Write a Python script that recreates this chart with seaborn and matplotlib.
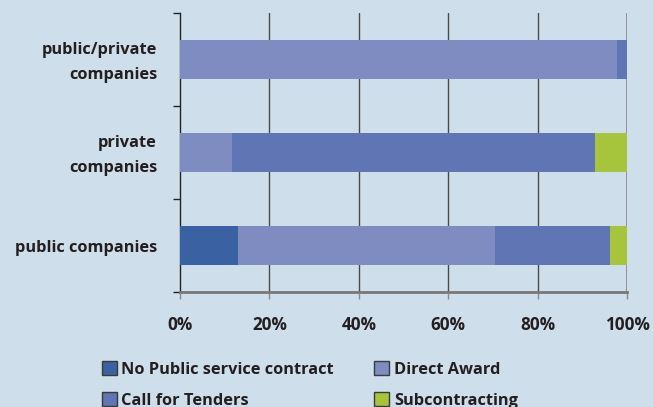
import matplotlib
matplotlib.use("Agg")
import matplotlib.pyplot as plt
import matplotlib.transforms as mtransforms
from matplotlib.patches import Patch
import numpy as np
import pandas as pd
import seaborn as sns

# Share of contract types per company ownership (percent)
companies = ["public/private\ncompanies", "private\ncompanies", "public companies"]
segments = ["No Public service contract", "Direct Award", "Call for Tenders", "Subcontracting"]
no_contract = [0.0, 0.0, 12.9]
direct_award = [97.8, 11.6, 57.6]
call_for_tenders = [2.2, 81.3, 25.8]
subcontracting = [0.0, 7.1, 3.7]
colors = ["#3a62a3", "#7f8cc1", "#5f75b4", "#a7c43d"]
x_ticks = [0, 20, 40, 60, 80, 100]
x_labels = ["0%", "20%", "40%", "60%", "80%", "100%"]

bg = "#cfdeeb"
ink = "#231f20"

sns.set_theme(style="white")
plt.rcParams["font.family"] = ["Open Sans", "DejaVu Sans"]
plt.rcParams["font.weight"] = "bold"

values = np.array([no_contract, direct_award, call_for_tenders, subcontracting])
cumulative = np.cumsum(values, axis=0)

fig = plt.figure(figsize=(6.53, 4.07), dpi=100, facecolor=bg)
ax = fig.add_axes([180 / 653, 1 - 292 / 407, 447 / 653, 279 / 407])
ax.set_facecolor(bg)

# Stacked bars: draw running totals from the longest down so each segment shows
for i in range(len(segments) - 1, -1, -1):
    df = pd.DataFrame({"company": companies, "share": cumulative[i]})
    sns.barplot(data=df, x="share", y="company", order=companies, orient="h",
                color=colors[i], saturation=1, width=0.41, linewidth=0,
                ax=ax, zorder=3)

ax.set_xlim(0, 100)
ax.set_ylim(2.5, -0.5)
ax.set_xlabel("")
ax.set_ylabel("")

# Vertical grid lines
for v in x_ticks[1:-1]:
    ax.axvline(v, color="#4a4a4a", lw=1.0, zorder=1)
ax.axvline(100, color="#7a7a7a", lw=1.8, zorder=1)

ax.set_xticks(x_ticks)
ax.set_xticklabels(x_labels, fontsize=12.3, fontweight="bold", color=ink)
ax.tick_params(axis="x", length=5, width=1, color="#8a8a8a", direction="out", pad=12.5,
               bottom=True)

ax.set_yticks([-0.5, 0.5, 1.5, 2.5])
ax.set_yticklabels([])
ax.set_yticks([0, 1, 2], minor=True)
ax.set_yticklabels(companies, minor=True, fontsize=11.8, fontweight="bold", color=ink,
                   linespacing=1.75, ha="right", va="center")
ax.tick_params(axis="y", which="major", length=5, width=1, color="#222222", direction="out",
               left=True)
ax.tick_params(axis="y", which="minor", length=0, pad=16.5, left=True)

# Nudge category labels slightly down so the text sits centred on the bars
nudge = mtransforms.ScaledTranslation(0, -3 / 100, fig.dpi_scale_trans)
for lbl in ax.get_yticklabels(minor=True):
    lbl.set_transform(lbl.get_transform() + nudge)

for side in ["top", "right"]:
    ax.spines[side].set_visible(False)
ax.spines["left"].set_color("#222222")
ax.spines["left"].set_linewidth(1.0)
ax.spines["bottom"].set_color("#777777")
ax.spines["bottom"].set_linewidth(2.0)
ax.spines["bottom"].set_bounds(0, 100)

handles = [Patch(facecolor=c, edgecolor="#3a3a3a", linewidth=1.0) for c in colors]
order = [0, 2, 1, 3]
fig.legend([handles[k] for k in order], [segments[k] for k in order],
           loc="upper left", bbox_to_anchor=(101.5 / 653, 1 - 361 / 407), ncol=2,
           frameon=False, prop={"family": ["Open Sans", "DejaVu Sans"], "weight": "bold",
                                "size": 11.8},
           handlelength=0.92, handleheight=0.92, handletextpad=0.3,
           columnspacing=2.44, labelspacing=0.9, borderaxespad=0, borderpad=0,
           labelcolor=ink)

fig.savefig("out.png", dpi=100, facecolor=bg)
